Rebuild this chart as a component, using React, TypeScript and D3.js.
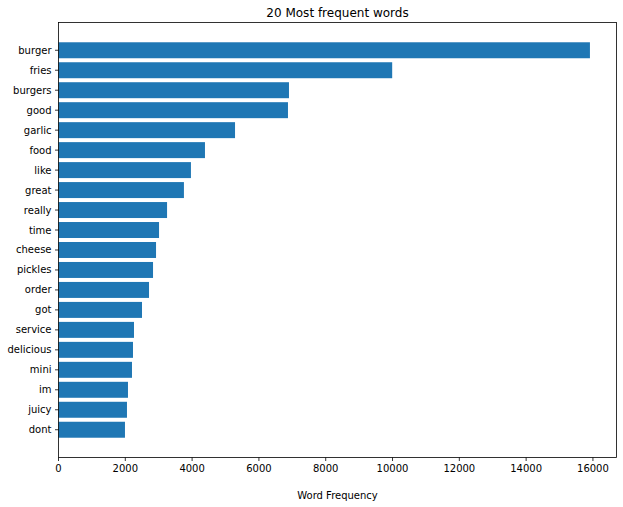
import React from "react";
import * as d3 from "d3";

const words = ["burger","fries","burgers","good","garlic","food","like","great","really","time","cheese","pickles","order","got","service","delicious","mini","im","juicy","dont"];
const counts = [15910,9990,6900,6870,5285,4385,3965,3755,3250,3010,2920,2830,2710,2500,2260,2230,2200,2080,2050,1990];
const xTicks = [0,2000,4000,6000,8000,10000,12000,14000,16000];
const title = "20 Most frequent words";
const xLabel = "Word Frequency";

export default function App() {
  const W = 623, H = 507;
  const left = 58.5, right = 616.5, top = 22.5, bottom = 457.5;
  const n = words.length;
  const xMax = d3.max(counts)! * 1.05;
  const x = d3.scaleLinear().domain([0, xMax]).range([left, right]);
  const span = (n - 1) + 0.8;
  const pad = span * 0.05;
  const y = d3.scaleLinear().domain([-0.4 - pad, n - 1 + 0.4 + pad]).range([top, bottom]);
  const font = "DejaVu Sans, sans-serif";
  return (
    <div style={{ position: "absolute", left: 0, top: 0 }}>
      <svg width={W} height={H} style={{ display: "block" }}>
        <rect x={0} y={0} width={W} height={H} fill="#fff" />
        {words.map((w, i) => (
          <rect key={w} x={x(0)} y={y(i - 0.4)} width={x(counts[i]) - x(0)} height={y(i + 0.4) - y(i - 0.4)} fill="#1f77b4" />
        ))}
        <rect x={left} y={top} width={right - left} height={bottom - top} fill="none" stroke="#000" strokeWidth={0.8} />
        {xTicks.map(t => (
          <g key={t}>
            <line x1={x(t)} x2={x(t)} y1={bottom} y2={bottom + 3.5} stroke="#000" strokeWidth={0.8} />
            <text x={x(t)} y={bottom + 14.5} textAnchor="middle" fontFamily={font} fontSize={10} fill="#000">{t}</text>
          </g>
        ))}
        {words.map((w, i) => (
          <g key={w + "t"}>
            <line x1={left - 3.5} x2={left} y1={y(i)} y2={y(i)} stroke="#000" strokeWidth={0.8} />
            <text x={left - 7} y={y(i)} dy="0.35em" textAnchor="end" fontFamily={font} fontSize={10} fill="#000">{w}</text>
          </g>
        ))}
        <text x={(left + right) / 2} y={17} textAnchor="middle" fontFamily={font} fontSize={12} fill="#000">{title}</text>
        <text x={(left + right) / 2} y={499} textAnchor="middle" fontFamily={font} fontSize={10} fill="#000">{xLabel}</text>
      </svg>
    </div>
  );
}
